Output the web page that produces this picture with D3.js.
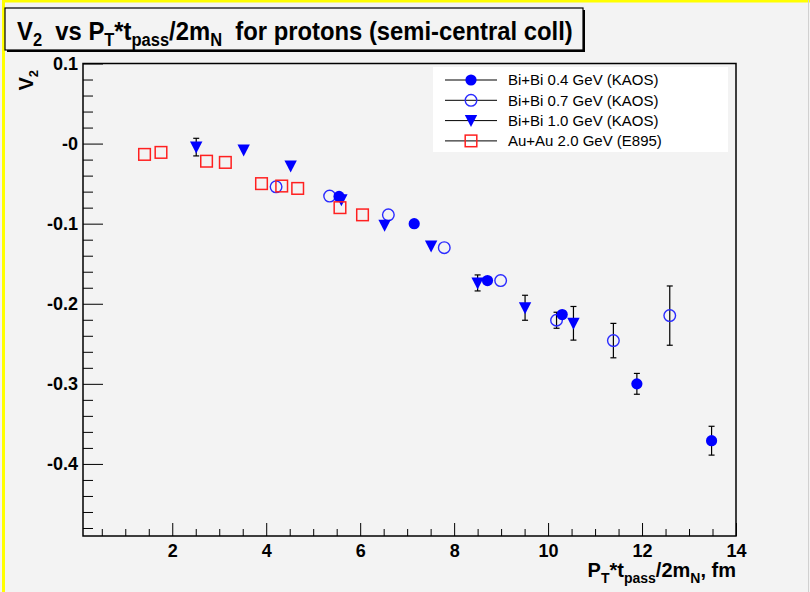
<!DOCTYPE html>
<html><head><meta charset="utf-8">
<script src="https://cdn.jsdelivr.net/npm/d3@7"></script>
<style>
html,body{margin:0;padding:0;background:#f3f3f3;}
svg{display:block;font-family:"Liberation Sans",Arial,sans-serif;}
</style></head>
<body>
<svg id="c" width="810" height="592"></svg>
<script>
// ---- data ----
const biBi04 = [[5.55,-0.066,0],[7.15,-0.100,0],[8.71,-0.171,0],[10.30,-0.2135,0.005],[11.89,-0.300,0.013],[13.48,-0.371,0.018]];
const biBi07 = [[4.21,-0.054,0],[5.35,-0.0656,0],[6.60,-0.089,0],[7.79,-0.130,0],[8.99,-0.171,0],[10.18,-0.2206,0.010],[11.39,-0.246,0.0215],[12.59,-0.2148,0.037]];
const biBi10 = [[2.51,-0.0044,0.011],[3.52,-0.0081,0],[4.52,-0.028,0],[5.60,-0.070,0],[6.52,-0.102,0],[7.51,-0.128,0],[8.50,-0.174,0.010],[9.51,-0.205,0.0156],[10.54,-0.2244,0.021]];
const auAu20 = [[1.41,-0.0135],[1.76,-0.011],[2.73,-0.022],[3.13,-0.0235],[3.90,-0.050],[4.33,-0.053],[4.67,-0.056],[5.57,-0.080],[6.05,-0.089]];
const legendLabels = ["Bi+Bi 0.4 GeV (KAOS)","Bi+Bi 0.7 GeV (KAOS)","Bi+Bi 1.0 GeV (KAOS)","Au+Au 2.0 GeV (E895)"];
const xMajor = [2,4,6,8,10,12,14];
const yMajor = [0.1,0,-0.1,-0.2,-0.3,-0.4];

const svg = d3.select("#c");
const L=83,R=736,T=63.5,B=536;
const x = d3.scaleLinear().domain([0.1,14]).range([L,R]);
const y = d3.scaleLinear().domain([-0.49,0.1]).range([B,T]);

svg.append("rect").attr("width",810).attr("height",592).attr("fill","#f3f3f3");
// yellow border
svg.append("rect").attr("x",2).attr("y",0).attr("width",3).attr("height",592).attr("fill","#ffff00");
svg.append("rect").attr("x",2).attr("y",0).attr("width",808).attr("height",2.5).attr("fill","#ffff00");
svg.append("line").attr("x1",808.5).attr("x2",808.5).attr("y1",0).attr("y2",592).attr("stroke","#d0d0d0");

// frame
svg.append("rect").attr("x",L).attr("y",T).attr("width",R-L).attr("height",B-T)
  .attr("fill","#f3f3f3").attr("stroke","#000").attr("stroke-width",1.5);

// minor ticks
const yMinor = d3.range(-48,10,2).map(v=>v/100).filter(v=>!yMajor.some(m=>Math.abs(m-v)<1e-9));
const xMinor = d3.range(1,29).map(v=>v/2).filter(v=>!xMajor.includes(v));

const fmtY = v => Math.abs(v)<1e-9 ? "-0" : v.toFixed(1);

const gy = svg.append("g").attr("transform",`translate(${L},0)`)
  .call(d3.axisLeft(y).tickValues(yMajor).tickSizeInner(-20).tickSizeOuter(0).tickPadding(5).tickFormat(fmtY));
const gym = svg.append("g").attr("transform",`translate(${L},0)`)
  .call(d3.axisLeft(y).tickValues(yMinor).tickSizeInner(-10).tickSizeOuter(0).tickFormat(""));
const gx = svg.append("g").attr("transform",`translate(0,${B})`)
  .call(d3.axisBottom(x).tickValues(xMajor).tickSizeInner(-13).tickSizeOuter(0).tickPadding(8).tickFormat(d3.format("d")));
const gxm = svg.append("g").attr("transform",`translate(0,${B})`)
  .call(d3.axisBottom(x).tickValues(xMinor).tickSizeInner(-7).tickSizeOuter(0).tickFormat(""));
[gym,gxm].forEach(g=>g.selectAll("text").remove());
[gy,gym,gx,gxm].forEach(g=>{
  g.select(".domain").remove();
  g.selectAll(".tick line").attr("stroke","#000").attr("stroke-width",1);
  g.selectAll("text").attr("fill","#000").style("font-size","18px").style("font-weight","bold")
   .style("font-family","'Liberation Sans',Arial,sans-serif");
});

// error bars
function errBars(data){
  const g = svg.append("g").attr("stroke","#000").attr("stroke-width",1.2);
  data.filter(d=>d[2]>0).forEach(d=>{
    const cx=x(d[0]), y1=y(d[1]-d[2]), y2=y(d[1]+d[2]);
    g.append("line").attr("x1",cx).attr("x2",cx).attr("y1",y1).attr("y2",y2);
    g.append("line").attr("x1",cx-3).attr("x2",cx+3).attr("y1",y1).attr("y2",y1);
    g.append("line").attr("x1",cx-3).attr("x2",cx+3).attr("y1",y2).attr("y2",y2);
  });
}
// marker drawers
const mk = {
  filled:(g,cx,cy)=>g.append("circle").attr("cx",cx).attr("cy",cy).attr("r",5.6).attr("fill","#0000ff"),
  open:(g,cx,cy)=>g.append("circle").attr("cx",cx).attr("cy",cy).attr("r",5.8).attr("fill","none").attr("stroke","#2a2aff").attr("stroke-width",1.4),
  tri:(g,cx,cy)=>g.append("path").attr("d",`M${cx-6.2},${cy-5.5}L${cx+6.2},${cy-5.5}L${cx},${cy+6.5}Z`).attr("fill","#0000ff"),
  sq:(g,cx,cy)=>g.append("rect").attr("x",cx-5.8).attr("y",cy-5.8).attr("width",11.6).attr("height",11.6).attr("fill","none").attr("stroke","#ff2020").attr("stroke-width",1.5)
};
function series(data,kind){
  errBars(data);
  const g = svg.append("g");
  data.forEach(d=>mk[kind](g,x(d[0]),y(d[1])));
}
series(biBi07,"open");
series(biBi10,"tri");
series(biBi04,"filled");
series(auAu20,"sq");

// legend
svg.append("rect").attr("x",433).attr("y",67).attr("width",295).attr("height",85).attr("fill","#ffffff");
const kinds=["filled","open","tri","sq"];
const lg = svg.append("g");
legendLabels.forEach((t,i)=>{
  const ly = 80 + i*20.3;
  lg.append("line").attr("x1",445).attr("x2",497).attr("y1",ly).attr("y2",ly).attr("stroke","#000").attr("stroke-width",1);
  mk[kinds[i]](lg,471,ly);
  lg.append("text").attr("x",508).attr("y",ly).attr("dy","0.36em").text(t)
    .style("font-size","15px").attr("fill","#000");
});

// title box
svg.append("rect").attr("x",7).attr("y",10).attr("width",578).attr("height",42).attr("fill","#000");
svg.append("rect").attr("x",5).attr("y",8).attr("width",578).attr("height",42).attr("fill","#f3f3f3").attr("stroke","#000").attr("stroke-width",1.2);
const title = svg.append("text").attr("x",17).attr("y",40).style("font-size","26px").style("font-weight","bold")
  .style("white-space","pre").attr("fill","#000");
// rich text with subscripts: each part [text, isSub]
function parts(el, arr, sub, shift){
  let down = 0;
  arr.forEach(p=>{
    const ts = el.append("tspan").text(p[0]);
    if(p[1]){
      ts.style("font-size",sub+"px").attr("dy",shift-down);
      down = shift;
    } else if(down){
      ts.attr("dy",-down);
      down = 0;
    }
  });
}
parts(title,[["V"],["2",1],["  vs P"],["T",1],["*t"],["pass",1],["/2m"],["N",1],["  for protons (semi-central coll)"]],18,6);
const tw = title.node().getBBox().width;
title.attr("transform",`translate(17,0) scale(${556/tw},1) translate(-17,0)`);

// y title
const yt = svg.append("text").attr("transform","translate(33,70) rotate(-90)").attr("text-anchor","end")
  .style("font-size","20px").style("font-weight","bold").attr("fill","#000");
parts(yt,[["V"],["2",1]],13,5);

// x title
const xt = svg.append("text").attr("x",R).attr("y",577).attr("text-anchor","end")
  .style("font-size","20px").style("font-weight","bold").attr("fill","#000");
parts(xt,[["P"],["T",1],["*t"],["pass",1],["/2m"],["N",1],[", fm"]],14,6);
</script>
</body></html>
